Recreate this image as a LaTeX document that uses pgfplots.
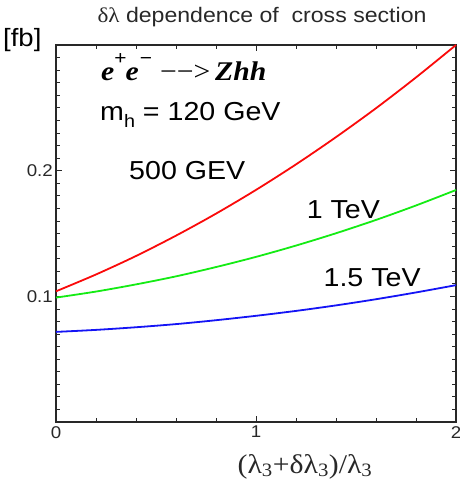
\documentclass[border=0pt]{standalone}
\usepackage{fontspec}
\setmainfont{Liberation Sans}
\newfontfamily\lab{Liberation Sans}[FakeStretch=1.1]
\newfontfamily\ser{Liberation Serif}
\newfontfamily\serw{Liberation Serif}[FakeStretch=1.1]
\usepackage{pgfplots}
\pgfplotsset{compat=1.18}
\definecolor{cred}{RGB}{250,10,10}
\definecolor{cgreen}{RGB}{20,235,20}
\definecolor{cblue}{RGB}{20,20,245}
\definecolor{ink}{RGB}{40,40,40}
\begin{document}
\begin{tikzpicture}
\begin{axis}[
  scale only axis, width=400bp, height=377bp,
  xmin=0, xmax=2, ymin=0, ymax=0.3,
  xtick={0,1,2}, xticklabels={0,1,2},
  ytick={0,0.1,0.2,0.3}, yticklabels={,0.1,0.2,},
  minor x tick num=4, minor y tick num=9,
  tick align=inside,
  major tick length=6bp, minor tick length=4bp,
  axis line style={line width=1.2bp, ink},
  every tick/.style={ink, line width=0.8bp},
  tick label style={font=\lab\fontsize{17bp}{20bp}\selectfont, text=ink, inner sep=1bp},
  xticklabel style={yshift=-3bp},
  yticklabel style={xshift=-2bp},
  clip=false,
]
\addplot[cred, line width=1.8bp, smooth] coordinates {
 (0,0.104) (0.2,0.1174) (0.4,0.1321) (0.6,0.1483) (0.8,0.1658) (1.0,0.1847)
 (1.2,0.2050) (1.4,0.2267) (1.6,0.2497) (1.8,0.2742) (2.0,0.300)};
\addplot[cgreen, line width=1.8bp, smooth] coordinates {
 (0,0.099) (0.2,0.1038) (0.4,0.1095) (0.6,0.1159) (0.8,0.1233) (1.0,0.1314)
 (1.2,0.1404) (1.4,0.1502) (1.6,0.1608) (1.8,0.1723) (2.0,0.1846)};
\addplot[cblue, line width=1.8bp, smooth] coordinates {
 (0,0.0717) (0.2,0.0733) (0.4,0.0754) (0.6,0.0779) (0.8,0.0810) (1.0,0.0845)
 (1.2,0.0884) (1.4,0.0928) (1.6,0.0977) (1.8,0.1031) (2.0,0.1089)};
\node[anchor=base west, inner sep=0, font=\serw\bfseries\itshape\fontsize{27bp}{30bp}\selectfont]
  at (axis cs:0.225,0.2714)
  {e\raisebox{0.62em}{\normalfont\lab\fontsize{19bp}{20bp}\selectfont +}\kern-1bp e\kern1bp\raisebox{0.62em}{\normalfont\lab\fontsize{19bp}{20bp}\selectfont −}};
\node[anchor=base west, inner sep=0, font=\serw\fontsize{27bp}{30bp}\selectfont]
  at (axis cs:0.52,0.2714) {−−>};
\node[anchor=base west, inner sep=0, font=\serw\bfseries\itshape\fontsize{27bp}{30bp}\selectfont]
  at (axis cs:0.795,0.2714) {Zhh};
\node[anchor=base west, inner sep=0, font=\lab\fontsize{26bp}{30bp}\selectfont]
  at (axis cs:0.22,0.2403) {m\raisebox{-0.3em}{\fontsize{18bp}{20bp}\selectfont h} = 120 GeV};
\node[anchor=base west, inner sep=0, font=\lab\fontsize{26bp}{30bp}\selectfont]
  at (axis cs:0.365,0.1931) {500 GEV};
\node[anchor=base west, inner sep=0, font=\lab\fontsize{26bp}{30bp}\selectfont]
  at (axis cs:1.253,0.1621) {1 TeV};
\node[anchor=base west, inner sep=0, font=\lab\fontsize{26bp}{30bp}\selectfont]
  at (axis cs:1.337,0.1077) {1.5 TeV};
\end{axis}
\node[anchor=base west, inner sep=0, font=\lab\fontsize{25bp}{30bp}\selectfont] at (-53bp,375bp) {[fb]};
\node[anchor=base, inner sep=0, font=\lab\fontsize{21bp}{24bp}\selectfont, text=ink] at (206bp,399bp)
  {{\serw δλ} dependence of\ \ cross section};
\node[anchor=base, inner sep=0, font=\serw\fontsize{27bp}{30bp}\selectfont, text=ink] at (249bp,-51bp)
  {(λ\textsubscript{3}+δλ\textsubscript{3})/λ\textsubscript{3}};
\pgfresetboundingbox
\path[use as bounding box] (-56bp,-59bp) rectangle (404bp,422bp);
\end{tikzpicture}
\end{document}
